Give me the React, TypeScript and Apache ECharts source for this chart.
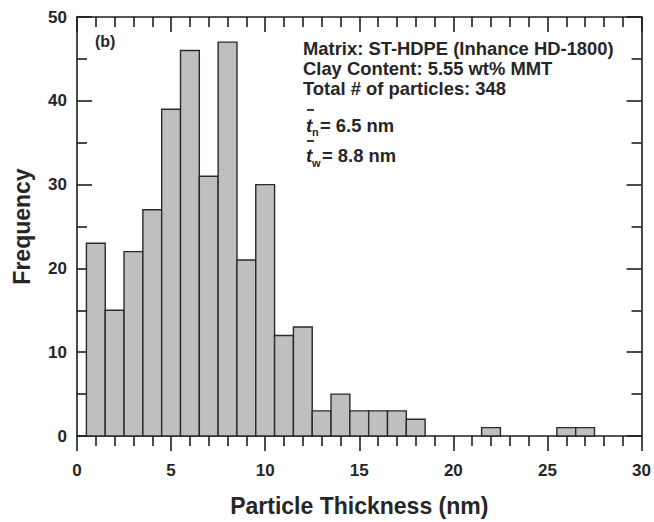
import React, { useEffect, useRef } from "react";
import * as echarts from "echarts";

const binCenters = [1, 2, 3, 4, 5, 6, 7, 8, 9, 10, 11, 12, 13, 14, 15, 16, 17, 18, 19, 20, 21, 22, 23, 24, 25, 26, 27];
const counts = [23, 15, 22, 27, 39, 46, 31, 47, 21, 30, 12, 13, 3, 5, 3, 3, 3, 2, 0, 0, 0, 1, 0, 0, 0, 1, 1];
const xTitle = "Particle Thickness (nm)";
const yTitle = "Frequency";
const infoLines = ["Matrix: ST-HDPE (Inhance HD-1800)", "Clay Content: 5.55 wt% MMT", "Total # of particles: 348"];
const panelLabel = "(b)";
const meanN = "= 6.5 nm";
const meanW = "= 8.8 nm";

const FONT = "'Liberation Sans', Arial, Helvetica, sans-serif";
const AX = "#1e1e1e";
const TXT = "#262626";

export default function App() {
  const ref = useRef<HTMLDivElement>(null);
  useEffect(() => {
    document.body.style.margin = "0";
    if (!ref.current) return;
    const chart = echarts.init(ref.current, undefined, { renderer: "svg" });
    const data = binCenters
      .map((c, i) => [c, counts[i]])
      .filter((d) => d[1] > 0);

    const axisLine = { show: true, onZero: false, lineStyle: { color: AX, width: 1.6 } };
    const labelStyle = { fontSize: 17, fontWeight: "bold", color: TXT, fontFamily: FONT };
    const titleStyle = { fontSize: 23, fontWeight: "bold", color: TXT, fontFamily: FONT };

    const txt = (text: string, x: number, y: number, size: number, extra: any = {}) => ({
      type: "text",
      x,
      y,
      style: {
        text,
        fontSize: size,
        fontWeight: "bold",
        fontFamily: FONT,
        fill: TXT,
        verticalAlign: "middle",
        align: "left",
        ...extra,
      },
    });
    const bar = (x1: number, x2: number, y: number) => ({
      type: "line",
      shape: { x1, y1: y, x2, y2: y },
      style: { stroke: TXT, lineWidth: 1.8 },
    });

    chart.setOption({
      animation: false,
      grid: { left: 77, right: 10, top: 17, bottom: 82, containLabel: false },
      xAxis: [
        {
          type: "value",
          position: "bottom",
          min: 0,
          max: 30,
          interval: 5,
          axisLine,
          axisTick: { show: true, inside: false, length: 15, lineStyle: { color: AX, width: 1.6 } },
          minorTick: { show: true, splitNumber: 5, length: 10, lineStyle: { color: AX, width: 1.6 } },
          axisLabel: { ...labelStyle, margin: 26 },
          splitLine: { show: false },
          minorSplitLine: { show: false },
          name: xTitle,
          nameLocation: "middle",
          nameGap: 58,
          nameTextStyle: titleStyle,
        },
        {
          type: "value",
          position: "top",
          min: 0,
          max: 30,
          interval: 5,
          axisLine,
          axisTick: { show: true, inside: true, length: 15, lineStyle: { color: AX, width: 1.6 } },
          minorTick: { show: true, splitNumber: 5, length: 10, lineStyle: { color: AX, width: 1.6 } },
          axisLabel: { show: false },
          splitLine: { show: false },
        },
      ],
      yAxis: [
        {
          type: "value",
          position: "left",
          min: 0,
          max: 50,
          interval: 10,
          axisLine,
          axisTick: { show: true, inside: true, length: 15, lineStyle: { color: AX, width: 1.6 } },
          minorTick: { show: true, splitNumber: 2, length: 10, lineStyle: { color: AX, width: 1.6 } },
          axisLabel: { ...labelStyle, margin: 10 },
          splitLine: { show: false },
          name: yTitle,
          nameLocation: "middle",
          nameGap: 44,
          nameTextStyle: titleStyle,
        },
        {
          type: "value",
          position: "right",
          min: 0,
          max: 50,
          interval: 10,
          axisLine,
          axisTick: { show: true, inside: true, length: 15, lineStyle: { color: AX, width: 1.6 } },
          minorTick: { show: true, splitNumber: 2, length: 10, lineStyle: { color: AX, width: 1.6 } },
          axisLabel: { show: false },
          splitLine: { show: false },
        },
      ],
      series: [
        {
          type: "custom",
          xAxisIndex: 0,
          yAxisIndex: 0,
          data,
          renderItem: (params: any, api: any) => {
            const x = api.value(0);
            const y = api.value(1);
            const p0 = api.coord([x - 0.5, y]);
            const p1 = api.coord([x + 0.5, 0]);
            return {
              type: "rect",
              shape: { x: p0[0], y: p0[1], width: p1[0] - p0[0], height: p1[1] - p0[1] },
              style: { fill: "#bfbfbf", stroke: "#2a2a2a", lineWidth: 1.4 },
            };
          },
        },
      ],
      graphic: [
        txt(panelLabel, 95, 41, 16),
        txt(infoLines[0], 303, 48, 18.4),
        txt(infoLines[1], 303, 68, 18.4),
        txt(infoLines[2], 303, 88, 18.4),
        txt("t", 306, 125, 19, { fontStyle: "italic" }),
        txt("n", 312, 132, 11),
        txt(meanN, 320, 125, 18.4),
        bar(307, 314, 110),
        txt("t", 306, 155, 19, { fontStyle: "italic" }),
        txt("w", 312, 163, 11),
        txt(meanW, 322, 155, 18.4),
        bar(307, 314, 141),
      ],
    });
    return () => chart.dispose();
  }, []);
  return <div ref={ref} style={{ width: 654, height: 522 }} />;
}
